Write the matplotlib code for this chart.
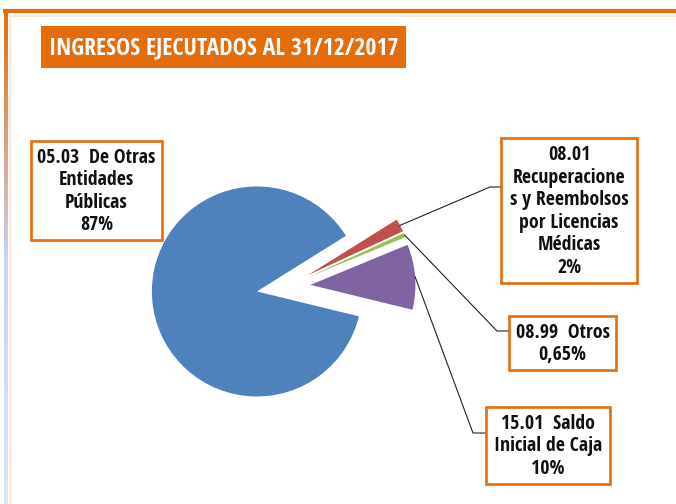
import numpy as np
import matplotlib
matplotlib.use('Agg')
import matplotlib.pyplot as plt
from matplotlib.patches import Rectangle
from matplotlib import font_manager

W, H = 676, 504

# datos
titulo = 'INGRESOS EJECUTADOS AL 31/12/2017'
codigos = ['05.03', '08.01', '08.99', '15.01']
nombres_cuenta = [
    ['De Otras', 'Entidades', 'Públicas'],
    ['Recuperacione', 's y Reembolsos', 'por Licencias', 'Médicas'],
    ['Otros'],
    ['Saldo', 'Inicial de Caja'],
]
porcentajes = [87, 2, 0.65, 10]
colores = ['#4F81BD', '#C0504D', '#9BBB59', '#8064A2']
naranja = '#E46C0A'

# posiciones en pixeles (x0, y0, x1, y1), y hacia abajo
cajas = [(31, 141, 162, 240), (501, 138, 637, 283), (509, 316, 616, 370), (486, 407, 610, 484)]
codo = [None, (490, 187), (497, 331), (473, 433)]
caja_titulo = (41, 26, 406, 68)


def py(y):
    return H - y


# letra estrecha parecida a Calibri si existe
disponibles = {f.name for f in font_manager.fontManager.ttflist}
fuente = 'Liberation Sans'
for cand in ['Open Sans Condensed', 'PT Sans Narrow', 'Asap Condensed', 'Carlito', 'Liberation Sans']:
    if cand in disponibles:
        fuente = cand
        break
plt.rcParams['font.family'] = [fuente, 'DejaVu Sans']

fig = plt.figure(figsize=(W / 100, H / 100), dpi=100)
ax = fig.add_axes([0, 0, 1, 1])

wedges, _ = ax.pie(porcentajes, colors=colores, startangle=-13.7, counterclock=False,
                   radius=105, center=(286.5, py(286.7)), explode=[30, 24, 24, 24],
                   wedgeprops=dict(linewidth=0), frame=True)
ax.set_xlim(0, W)
ax.set_ylim(0, H)
ax.axis('off')

# marco exterior
ax.plot([3, W], [py(11), py(11)], color=naranja, lw=3, solid_capstyle='butt')
ax.plot([10, W], [py(15.5), py(15.5)], color='#FCE4D2', lw=1.2)
ax.plot([10, 10], [py(15.5), 0], color='#FCE4D2', lw=1.2)
paso = np.linspace(0, 1, 200)[:, None]
c_top = np.array([0.894, 0.424, 0.039])
c_mid = np.array([0.78, 0.83, 0.93])
c_bot = np.array([0.87, 0.90, 0.96])
grad = np.where(paso < 0.5, c_top + (c_mid - c_top) * (paso / 0.5),
                c_mid + (c_bot - c_mid) * ((paso - 0.5) / 0.5))
ax.imshow(grad[:, None, :], extent=[3.5, 7, 0, py(9.5)], aspect='auto', zorder=3)
ax.set_xlim(0, W)
ax.set_ylim(0, H)

# titulo
x0, y0, x1, y1 = caja_titulo
ax.add_patch(Rectangle((x0, py(y1)), x1 - x0, y1 - y0, color=naranja, lw=0))
t = ax.text((x0 + x1) / 2, py((y0 + y1) / 2 + 1), titulo, color='white', fontweight='bold',
            fontsize=18, ha='center', va='center')
r = fig.canvas.get_renderer()
t.set_fontsize(18 * 350 / t.get_window_extent(r).width)

# tamano de letra de las etiquetas
prueba = ax.text(0, 0, '05.03  De Otras', fontweight='bold', fontsize=10)
tam = 10 * 118 / prueba.get_window_extent(r).width
prueba.remove()

interlinea = 22.5
for i, (cod, nom, val) in enumerate(zip(codigos, nombres_cuenta, porcentajes)):
    x0, y0, x1, y1 = cajas[i]
    ax.add_patch(Rectangle((x0, py(y1)), x1 - x0, y1 - y0, fill=False,
                           edgecolor=naranja, lw=1.9, zorder=4))
    pct = f'{val:g}%'.replace('.', ',')
    if i == 1:
        lineas = [cod] + nom + [pct]
    else:
        lineas = [cod + '  ' + nom[0]] + nom[1:] + [pct]
    n = len(lineas)
    cy = (y0 + y1) / 2
    for k, txt in enumerate(lineas):
        yy = cy + (k - (n - 1) / 2) * interlinea + 1
        ax.text((x0 + x1) / 2, py(yy), txt, ha='center', va='center',
                fontsize=tam, fontweight='bold', color='#111111', zorder=5)
    if codo[i] is not None:
        w = wedges[i]
        tm = np.deg2rad((w.theta1 + w.theta2) / 2)
        sx = w.center[0] + w.r * np.cos(tm)
        sy = w.center[1] + w.r * np.sin(tm)
        ex, ey = codo[i]
        ax.plot([sx, ex, x0], [sy, py(ey), py(ey)], color='#222222', lw=0.8, zorder=2)

fig.savefig('out.png', dpi=100)
